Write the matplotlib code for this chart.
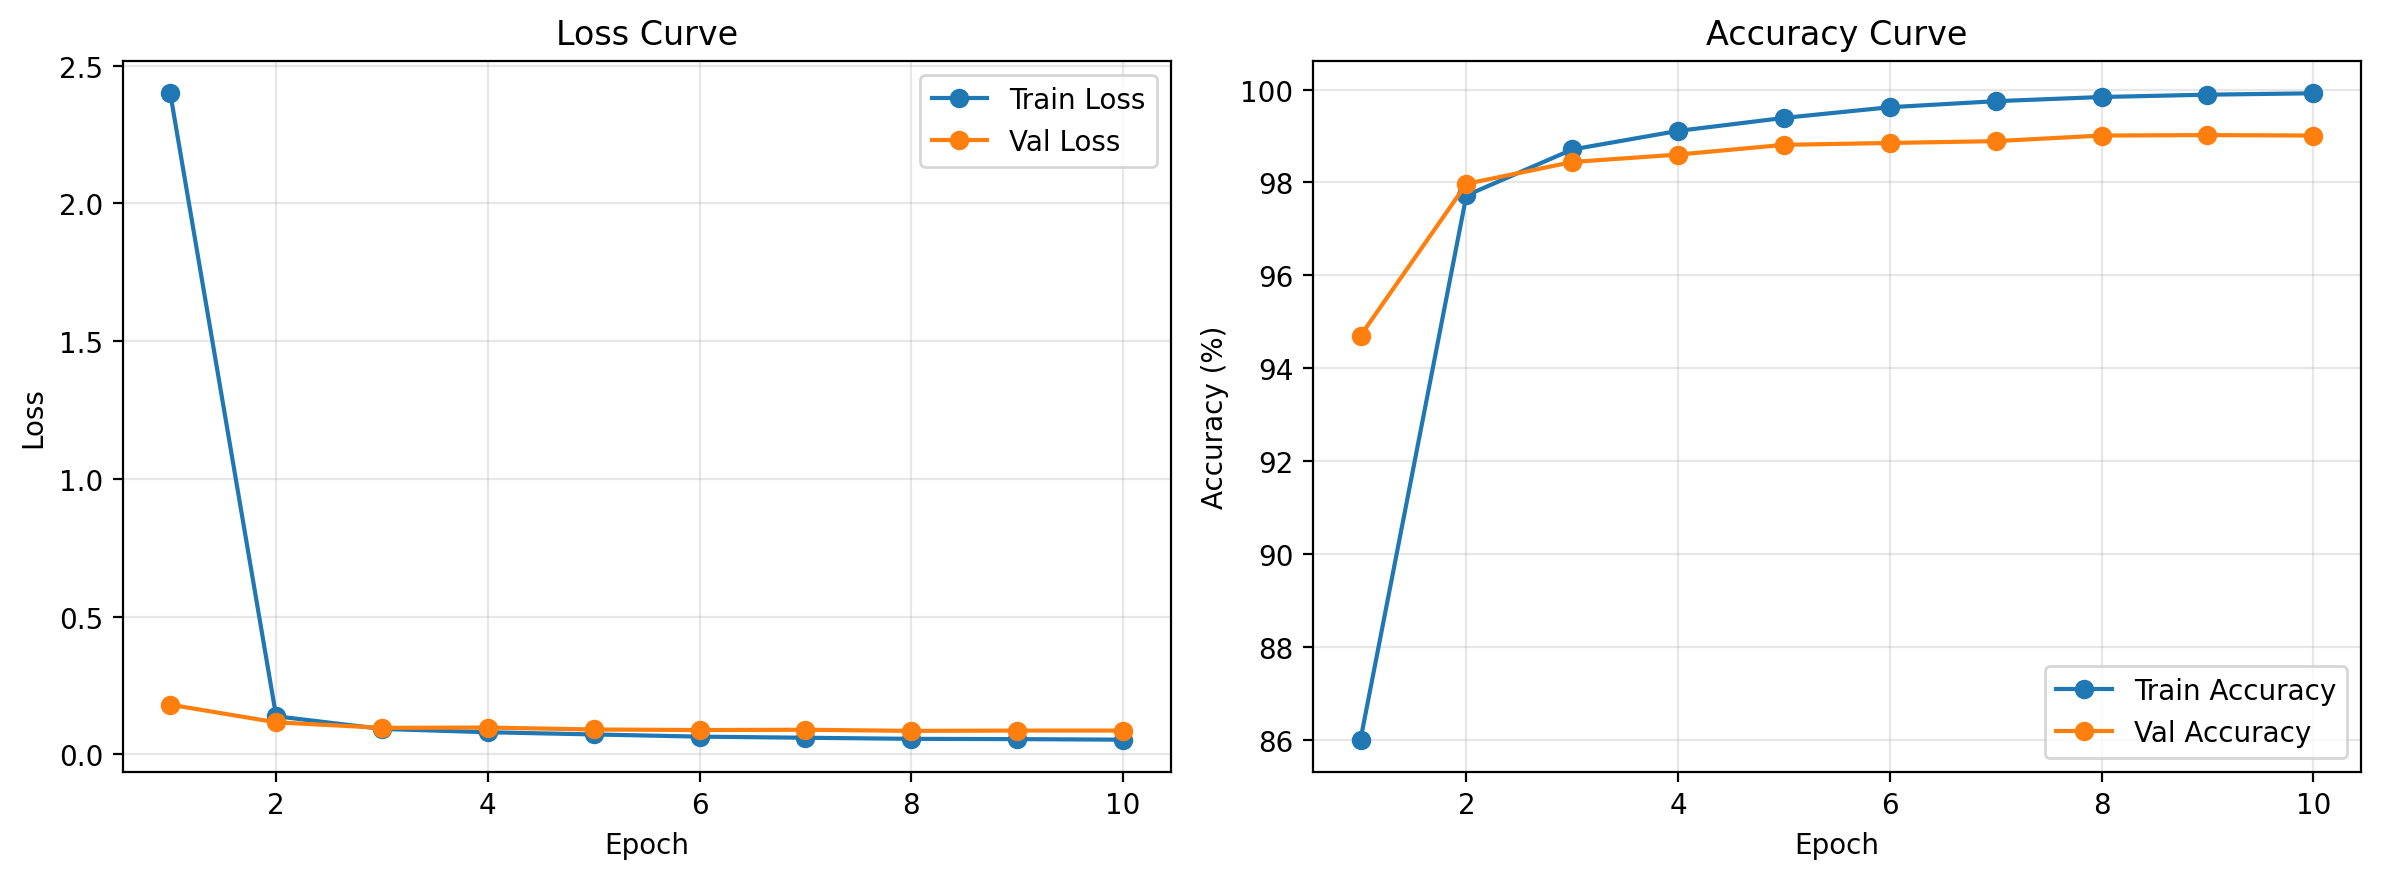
import matplotlib
matplotlib.use("Agg")
import matplotlib.pyplot as plt

epochs = [1, 2, 3, 4, 5, 6, 7, 8, 9, 10]
train_loss = [2.40, 0.138, 0.092, 0.080, 0.072, 0.064, 0.060, 0.056, 0.055, 0.053]
val_loss = [0.180, 0.116, 0.096, 0.097, 0.090, 0.088, 0.089, 0.085, 0.086, 0.086]
train_acc = [86.0, 97.72, 98.71, 99.11, 99.39, 99.62, 99.75, 99.84, 99.89, 99.92]
val_acc = [94.70, 97.97, 98.44, 98.60, 98.81, 98.85, 98.89, 99.01, 99.02, 99.01]

fig, (ax1, ax2) = plt.subplots(1, 2, figsize=(11.905, 4.395), dpi=200)
fig.subplots_adjust(left=0.0515, right=0.9916, top=0.9295, bottom=0.1206,
                    wspace=(0.5515 - 0.4918) / ((0.4918 - 0.0515)))

ax1.plot(epochs, train_loss, marker='o', label='Train Loss')
ax1.plot(epochs, val_loss, marker='o', label='Val Loss')
ax1.set_xlabel('Epoch')
ax1.set_ylabel('Loss')
ax1.set_title('Loss Curve')
ax1.legend()
ax1.grid(True, alpha=0.3)

ax2.plot(epochs, train_acc, marker='o', label='Train Accuracy')
ax2.plot(epochs, val_acc, marker='o', label='Val Accuracy')
ax2.set_xlabel('Epoch')
ax2.set_ylabel('Accuracy (%)')
ax2.set_title('Accuracy Curve')
ax2.legend()
ax2.grid(True, alpha=0.3)

fig.savefig('out.png', dpi=200)
